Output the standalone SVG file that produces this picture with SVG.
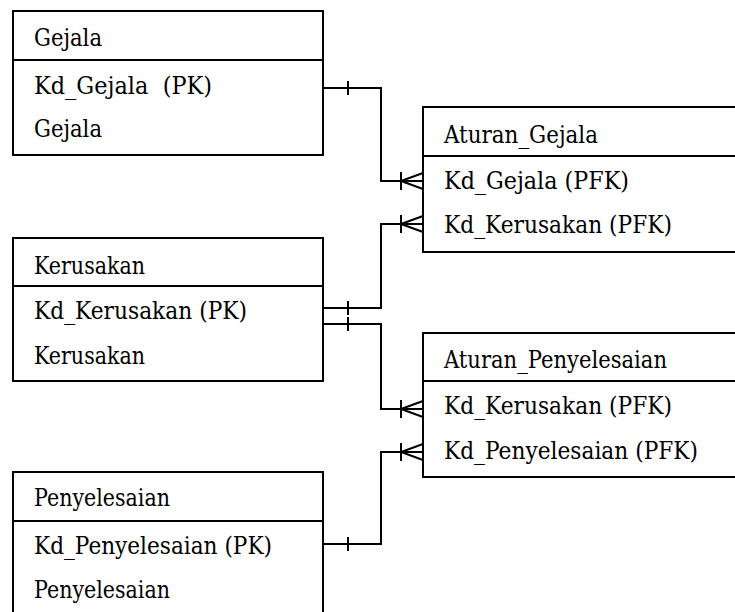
<svg xmlns="http://www.w3.org/2000/svg" width="735" height="612" viewBox="0 0 735 612">
  <style>
    .box { fill: #ffffff; stroke: #000000; stroke-width: 2; }
    .div { stroke: #000000; stroke-width: 2; }
    .t { font-family: 'DejaVu Serif', 'Liberation Serif', serif; font-size: 24px; fill: #000000; white-space: pre; }
    .ln { fill: none; stroke: #000000; stroke-width: 2; }
  </style>
  <rect width="735" height="612" fill="#ffffff"/>

  <!-- Entities -->
  <g id="gejala">
    <rect class="box" x="13" y="11" width="310" height="144"/>
    <line class="div" x1="13" y1="60" x2="323" y2="60"/>
    <text class="t" x="34" y="46" textLength="68" lengthAdjust="spacingAndGlyphs">Gejala</text>
    <text class="t" x="34" y="94" textLength="178" lengthAdjust="spacingAndGlyphs" xml:space="preserve">Kd_Gejala  (PK)</text>
    <text class="t" x="34" y="137" textLength="68" lengthAdjust="spacingAndGlyphs">Gejala</text>
  </g>

  <g id="kerusakan">
    <rect class="box" x="13" y="238" width="310" height="143"/>
    <line class="div" x1="13" y1="286" x2="323" y2="286"/>
    <text class="t" x="34" y="274" textLength="111" lengthAdjust="spacingAndGlyphs">Kerusakan</text>
    <text class="t" x="34" y="319" textLength="213" lengthAdjust="spacingAndGlyphs">Kd_Kerusakan (PK)</text>
    <text class="t" x="34" y="364" textLength="111" lengthAdjust="spacingAndGlyphs">Kerusakan</text>
  </g>

  <g id="penyelesaian">
    <rect class="box" x="13" y="472" width="310" height="150"/>
    <line class="div" x1="13" y1="521" x2="323" y2="521"/>
    <text class="t" x="34" y="506" textLength="136" lengthAdjust="spacingAndGlyphs">Penyelesaian</text>
    <text class="t" x="34" y="554" textLength="238" lengthAdjust="spacingAndGlyphs">Kd_Penyelesaian (PK)</text>
    <text class="t" x="34" y="598" textLength="136" lengthAdjust="spacingAndGlyphs">Penyelesaian</text>
  </g>

  <g id="aturan_gejala">
    <rect class="box" x="423" y="107" width="330" height="145"/>
    <line class="div" x1="423" y1="156" x2="740" y2="156"/>
    <text class="t" x="444" y="143" textLength="154" lengthAdjust="spacingAndGlyphs">Aturan_Gejala</text>
    <text class="t" x="444" y="189" textLength="185" lengthAdjust="spacingAndGlyphs">Kd_Gejala (PFK)</text>
    <text class="t" x="444" y="233" textLength="228" lengthAdjust="spacingAndGlyphs">Kd_Kerusakan (PFK)</text>
  </g>

  <g id="aturan_penyelesaian">
    <rect class="box" x="423" y="333" width="330" height="144"/>
    <line class="div" x1="423" y1="381" x2="740" y2="381"/>
    <text class="t" x="444" y="368" textLength="223" lengthAdjust="spacingAndGlyphs">Aturan_Penyelesaian</text>
    <text class="t" x="444" y="414" textLength="228" lengthAdjust="spacingAndGlyphs">Kd_Kerusakan (PFK)</text>
    <text class="t" x="444" y="459" textLength="254" lengthAdjust="spacingAndGlyphs">Kd_Penyelesaian (PFK)</text>
  </g>

  <!-- Relationships: one (bar) to many (crow's foot) -->
  <g id="connectors">
    <!-- Gejala -> Aturan_Gejala -->
    <polyline class="ln" points="323,88 381,88 381,181 423,181"/>
    <line class="ln" x1="348" y1="81" x2="348" y2="95"/>
    <line class="ln" x1="401" y1="172" x2="401" y2="190"/>
    <polyline class="ln" points="423,173 401,181 423,189"/>

    <!-- Kerusakan -> Aturan_Gejala -->
    <polyline class="ln" points="323,308 381,308 381,224 423,224"/>
    <line class="ln" x1="348" y1="301" x2="348" y2="315"/>
    <line class="ln" x1="401" y1="215" x2="401" y2="233"/>
    <polyline class="ln" points="423,216 401,224 423,232"/>

    <!-- Kerusakan -> Aturan_Penyelesaian -->
    <polyline class="ln" points="323,324 381,324 381,409 423,409"/>
    <line class="ln" x1="348" y1="317" x2="348" y2="331"/>
    <line class="ln" x1="401" y1="400" x2="401" y2="418"/>
    <polyline class="ln" points="423,401 401,409 423,417"/>

    <!-- Penyelesaian -> Aturan_Penyelesaian -->
    <polyline class="ln" points="323,544 381,544 381,452 423,452"/>
    <line class="ln" x1="348" y1="537" x2="348" y2="551"/>
    <line class="ln" x1="401" y1="443" x2="401" y2="461"/>
    <polyline class="ln" points="423,444 401,452 423,460"/>
  </g>
</svg>
